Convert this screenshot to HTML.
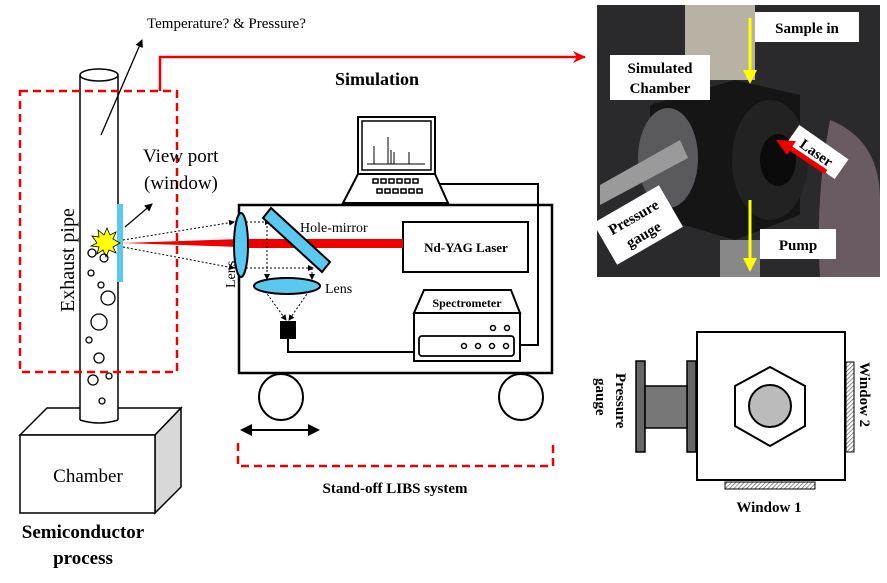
<!DOCTYPE html>
<html><head><meta charset="utf-8"><style>
body{margin:0;background:#fff;}
svg{display:block;font-family:"Liberation Serif",serif;}
</style></head><body>
<svg width="887" height="583" viewBox="0 0 887 583" xmlns="http://www.w3.org/2000/svg">
<defs>
<marker id="ar" markerWidth="8" markerHeight="8" refX="7" refY="4" orient="auto" markerUnits="userSpaceOnUse"><path d="M0,0 L8,4 L0,8 z" fill="#000"/></marker>
<marker id="ars" markerWidth="6" markerHeight="6" refX="5" refY="3" orient="auto" markerUnits="userSpaceOnUse"><path d="M0,0 L6,3 L0,6 z" fill="#000"/></marker>
<marker id="arr" markerWidth="14" markerHeight="12" refX="12" refY="6" orient="auto" markerUnits="userSpaceOnUse"><path d="M0,0 L13,6 L0,12 L4,6 z" fill="#e00"/></marker>
<pattern id="hatch" width="3" height="3" patternUnits="userSpaceOnUse" patternTransform="rotate(45)"><rect width="3" height="3" fill="#fff"/><line x1="0" y1="0" x2="0" y2="3" stroke="#555" stroke-width="1.3"/></pattern>
</defs>

<polygon points="20,435 47,408 181,408 155,435" fill="#fff" stroke="#000" stroke-width="1.5"/>
<polygon points="155,435 181,408 181,487 155,513" fill="#d8d8d8" stroke="#000" stroke-width="1.5"/>
<rect x="20" y="435" width="135" height="78" fill="#fff" stroke="#000" stroke-width="1.5"/>
<text x="88" y="482" font-size="19" text-anchor="middle">Chamber</text>
<text x="83" y="538" font-size="19" font-weight="bold" text-anchor="middle">Semiconductor</text>
<text x="83" y="564" font-size="19" font-weight="bold" text-anchor="middle">process</text>

<rect x="80" y="75" width="38" height="345" fill="#fff" stroke="none"/>
<line x1="80" y1="75" x2="80" y2="420" stroke="#000" stroke-width="1.5"/>
<line x1="118" y1="75" x2="118" y2="420" stroke="#000" stroke-width="1.5"/>
<path d="M80,420 Q99,426 118,420" fill="none" stroke="#000" stroke-width="1.5"/>
<ellipse cx="99" cy="75" rx="19" ry="6" fill="#fff" stroke="#000" stroke-width="1.5"/>
<g fill="none" stroke="#000" stroke-width="1.3">
<circle cx="92" cy="253" r="4"/><circle cx="91" cy="273" r="3"/><circle cx="101" cy="285" r="3"/>
<circle cx="108" cy="298" r="7"/><circle cx="99" cy="322" r="8"/><circle cx="89" cy="340" r="3"/>
<circle cx="99" cy="358" r="5"/><circle cx="93" cy="380" r="5"/><circle cx="109" cy="376" r="3"/><circle cx="102" cy="401" r="3"/>
</g>
<text transform="translate(74,312) rotate(-90)" font-size="20">Exhaust pipe</text>

<rect x="20" y="91" width="157" height="281" fill="none" stroke="#e00" stroke-width="2.5" stroke-dasharray="8,5"/>
<polyline points="160,91 160,57 585,57" fill="none" stroke="#e00" stroke-width="2.5" marker-end="url(#arr)"/>

<line x1="101" y1="135" x2="142" y2="40" stroke="#000" stroke-width="1.3" marker-end="url(#ar)"/>
<text x="147" y="28" font-size="15">Temperature?  &amp; Pressure?</text>
<text x="143" y="162" font-size="19">View port</text>
<text x="144" y="189" font-size="19">(window)</text>
<line x1="125" y1="227" x2="152" y2="204" stroke="#000" stroke-width="1.3" marker-end="url(#ar)"/>

<rect x="117" y="204" width="6" height="78" fill="#5bc8ef"/>
<polygon points="97,243 92,236 99,237 98,230 104,235 107,228 110,235 116,232 113,239 120,243 113,247 116,253 109,250 106,257 103,250 97,254 99,247 91,246" fill="#ff0" stroke="#000" stroke-width="0.8"/>
<circle cx="104" cy="258" r="4" fill="none" stroke="#000" stroke-width="1.2"/>

<rect x="239" y="205" width="313" height="168" fill="none" stroke="#000" stroke-width="2.5"/>
<ellipse cx="281" cy="397" rx="22" ry="23" fill="#fff" stroke="#000" stroke-width="2"/>
<ellipse cx="521" cy="397" rx="22" ry="23" fill="#fff" stroke="#000" stroke-width="2"/>
<line x1="248" y1="430" x2="312" y2="430" stroke="#000" stroke-width="2"/>
<polygon points="240,430 252,424 252,436" fill="#000"/><polygon points="320,430 308,424 308,436" fill="#000"/>
<polyline points="238,443 238,466 553,466 553,443" fill="none" stroke="#e00" stroke-width="2.5" stroke-dasharray="8,5"/>
<text x="395" y="493" font-size="15" font-weight="bold" text-anchor="middle">Stand-off LIBS system</text>
<text x="377" y="85" font-size="18" font-weight="bold" text-anchor="middle">Simulation</text>

<rect x="358" y="117" width="77" height="57" fill="#fff" stroke="#000" stroke-width="2"/>
<rect x="362" y="121" width="69" height="49" fill="none" stroke="#000" stroke-width="1.5"/>
<g stroke="#000" stroke-width="1"><line x1="367" y1="164" x2="425" y2="164"/><line x1="374" y1="164" x2="374" y2="146"/><line x1="388" y1="164" x2="388" y2="137"/><line x1="391" y1="164" x2="391" y2="150"/><line x1="394" y1="164" x2="394" y2="152"/><line x1="409" y1="164" x2="409" y2="152"/></g>
<polygon points="358,174 435,174 448,203 343,203" fill="#fff" stroke="#000" stroke-width="2"/>
<g fill="#fff" stroke="#000" stroke-width="1.5">
<rect x="373" y="179" width="5" height="4"/><rect x="381" y="179" width="5" height="4"/><rect x="389" y="179" width="5" height="4"/><rect x="397" y="179" width="5" height="4"/><rect x="405" y="179" width="5" height="4"/><rect x="413" y="179" width="5" height="4"/>
<rect x="377" y="189" width="5" height="4"/><rect x="385" y="189" width="5" height="4"/><rect x="393" y="189" width="5" height="4"/><rect x="401" y="189" width="5" height="4"/><rect x="409" y="189" width="5" height="4"/><rect x="417" y="189" width="5" height="4"/>
</g>
<polyline points="440,184 538,184 538,345 520,345" fill="none" stroke="#000" stroke-width="2"/>

<rect x="403" y="222" width="125" height="50" fill="#fff" stroke="#000" stroke-width="2"/>
<text x="466" y="252" font-size="13" font-weight="bold" text-anchor="middle">Nd-YAG Laser</text>
<polygon points="122,243 240,239 240,247" fill="#e00"/>
<rect x="240" y="239" width="163" height="9" fill="#e00"/>

<g stroke="#000" stroke-width="1" stroke-dasharray="2,2" fill="none">
<line x1="123" y1="240" x2="234" y2="222" marker-end="url(#ars)"/>
<line x1="123" y1="247" x2="234" y2="268" marker-end="url(#ars)"/>
<line x1="246" y1="222" x2="270" y2="222" marker-end="url(#ars)"/>
<line x1="246" y1="268" x2="313" y2="268" marker-end="url(#ars)"/>
<line x1="267" y1="222" x2="267" y2="279" marker-end="url(#ars)"/>
<line x1="312" y1="268" x2="312" y2="279" marker-end="url(#ars)"/>
<line x1="265" y1="291" x2="286" y2="320" marker-end="url(#ars)"/>
<line x1="309" y1="291" x2="289" y2="320" marker-end="url(#ars)"/>
</g>
<ellipse cx="241" cy="245" rx="7" ry="32" fill="#5bc8ef" stroke="#000" stroke-width="2"/>
<polygon points="263,218 271,208 330,262 322,272" fill="#5bc8ef" stroke="#000" stroke-width="2"/>
<ellipse cx="287" cy="286" rx="33" ry="8" fill="#5bc8ef" stroke="#000" stroke-width="2"/>
<rect x="280" y="321" width="16" height="18" fill="#000"/>
<text x="300" y="232" font-size="14">Hole-mirror</text>
<text x="325" y="293" font-size="14">Lens</text>
<text transform="translate(235,288) rotate(-90)" font-size="14">Lens</text>
<polyline points="288,339 288,352 414,352" fill="none" stroke="#000" stroke-width="2"/>

<polygon points="424,290 511,290 520,313 414,313" fill="#fff" stroke="#000" stroke-width="2"/>
<text x="467" y="307" font-size="12" font-weight="bold" text-anchor="middle">Spectrometer</text>
<rect x="414" y="313" width="106" height="48" fill="#fff" stroke="#000" stroke-width="2"/>
<rect x="419" y="336" width="95" height="20" rx="3" fill="none" stroke="#000" stroke-width="1.8"/>
<g fill="none" stroke="#000" stroke-width="1.5"><circle cx="493" cy="328" r="2.5"/><circle cx="507" cy="328" r="2.5"/>
<circle cx="464" cy="346" r="2.5"/><circle cx="478" cy="346" r="2.5"/><circle cx="492" cy="346" r="2.5"/><circle cx="506" cy="346" r="2.5"/></g>

<rect x="597" y="5" width="283" height="272" fill="#2a2a2c"/>
<rect x="685" y="5" width="70" height="75" fill="#b8b2a4"/>
<polygon points="650,105 735,80 800,95 800,215 735,240 650,215" fill="#151515"/>
<ellipse cx="668" cy="158" rx="30" ry="50" fill="#5a5a5e"/>
<ellipse cx="770" cy="160" rx="38" ry="60" fill="#222"/>
<ellipse cx="778" cy="160" rx="18" ry="26" fill="#0a0a0a"/>
<polygon points="600,185 680,140 688,158 600,205" fill="#9a9a9a"/>
<path d="M830,120 Q880,140 880,200 L880,277 L820,277 Q815,200 830,120z" fill="#6a5a62"/>
<rect x="720" y="240" width="40" height="37" fill="#888"/>
<rect x="755" y="12" width="104" height="30" fill="#fff"/>
<text x="807" y="33" font-size="15" font-weight="bold" text-anchor="middle">Sample in</text>
<rect x="610" y="55" width="100" height="45" fill="#fff"/>
<text x="660" y="73" font-size="15" font-weight="bold" text-anchor="middle">Simulated</text>
<text x="660" y="93" font-size="15" font-weight="bold" text-anchor="middle">Chamber</text>
<rect x="760" y="229" width="76" height="30" fill="#fff"/>
<text x="798" y="250" font-size="15" font-weight="bold" text-anchor="middle">Pump</text>
<g transform="translate(817,152) rotate(35)"><rect x="-30" y="-12" width="60" height="24" fill="#fff"/><text x="0" y="6" font-size="15" font-weight="bold" text-anchor="middle">Laser</text></g>
<g transform="translate(638,225) rotate(-30)"><rect x="-38" y="-24" width="76" height="48" fill="#fff"/><text x="0" y="-4" font-size="15" font-weight="bold" text-anchor="middle">Pressure</text><text x="0" y="16" font-size="15" font-weight="bold" text-anchor="middle">gauge</text></g>
<line x1="750" y1="18" x2="750" y2="70" stroke="#ff0" stroke-width="3"/><polygon points="743,70 757,70 750,84" fill="#ff0"/>
<line x1="750" y1="200" x2="750" y2="258" stroke="#ff0" stroke-width="3"/><polygon points="743,258 757,258 750,272" fill="#ff0"/>
<line x1="826" y1="172" x2="790" y2="148" stroke="#e00" stroke-width="5"/><polygon points="776,140 796,141 787,155" fill="#e00"/>

<rect x="697" y="332" width="148" height="148" fill="#fff" stroke="#000" stroke-width="2"/>
<polygon points="770,367 805,386 805,426 770,446 735,426 735,386" fill="#fff" stroke="#000" stroke-width="2"/>
<circle cx="770" cy="406" r="21" fill="#bbb" stroke="#000" stroke-width="2"/>
<rect x="687" y="361" width="9" height="91" fill="#666" stroke="#000" stroke-width="1.5"/>
<rect x="636" y="361" width="9" height="91" fill="#666" stroke="#000" stroke-width="1.5"/>
<rect x="645" y="386" width="42" height="42" fill="#777" stroke="#000" stroke-width="1.5"/>
<rect x="846" y="362" width="8" height="90" fill="url(#hatch)" stroke="#000" stroke-width="1"/>
<rect x="725" y="482" width="90" height="7" fill="url(#hatch)" stroke="#000" stroke-width="1"/>
<text x="769" y="512" font-size="15" font-weight="bold" text-anchor="middle">Window  1</text>
<text transform="translate(860,362) rotate(90)" font-size="15" font-weight="bold">Window  2</text>
<text transform="translate(616,373) rotate(90)" font-size="15" font-weight="bold">Pressure</text>
<text transform="translate(596,378) rotate(90)" font-size="15" font-weight="bold">gauge</text>
</svg>
</body></html>
